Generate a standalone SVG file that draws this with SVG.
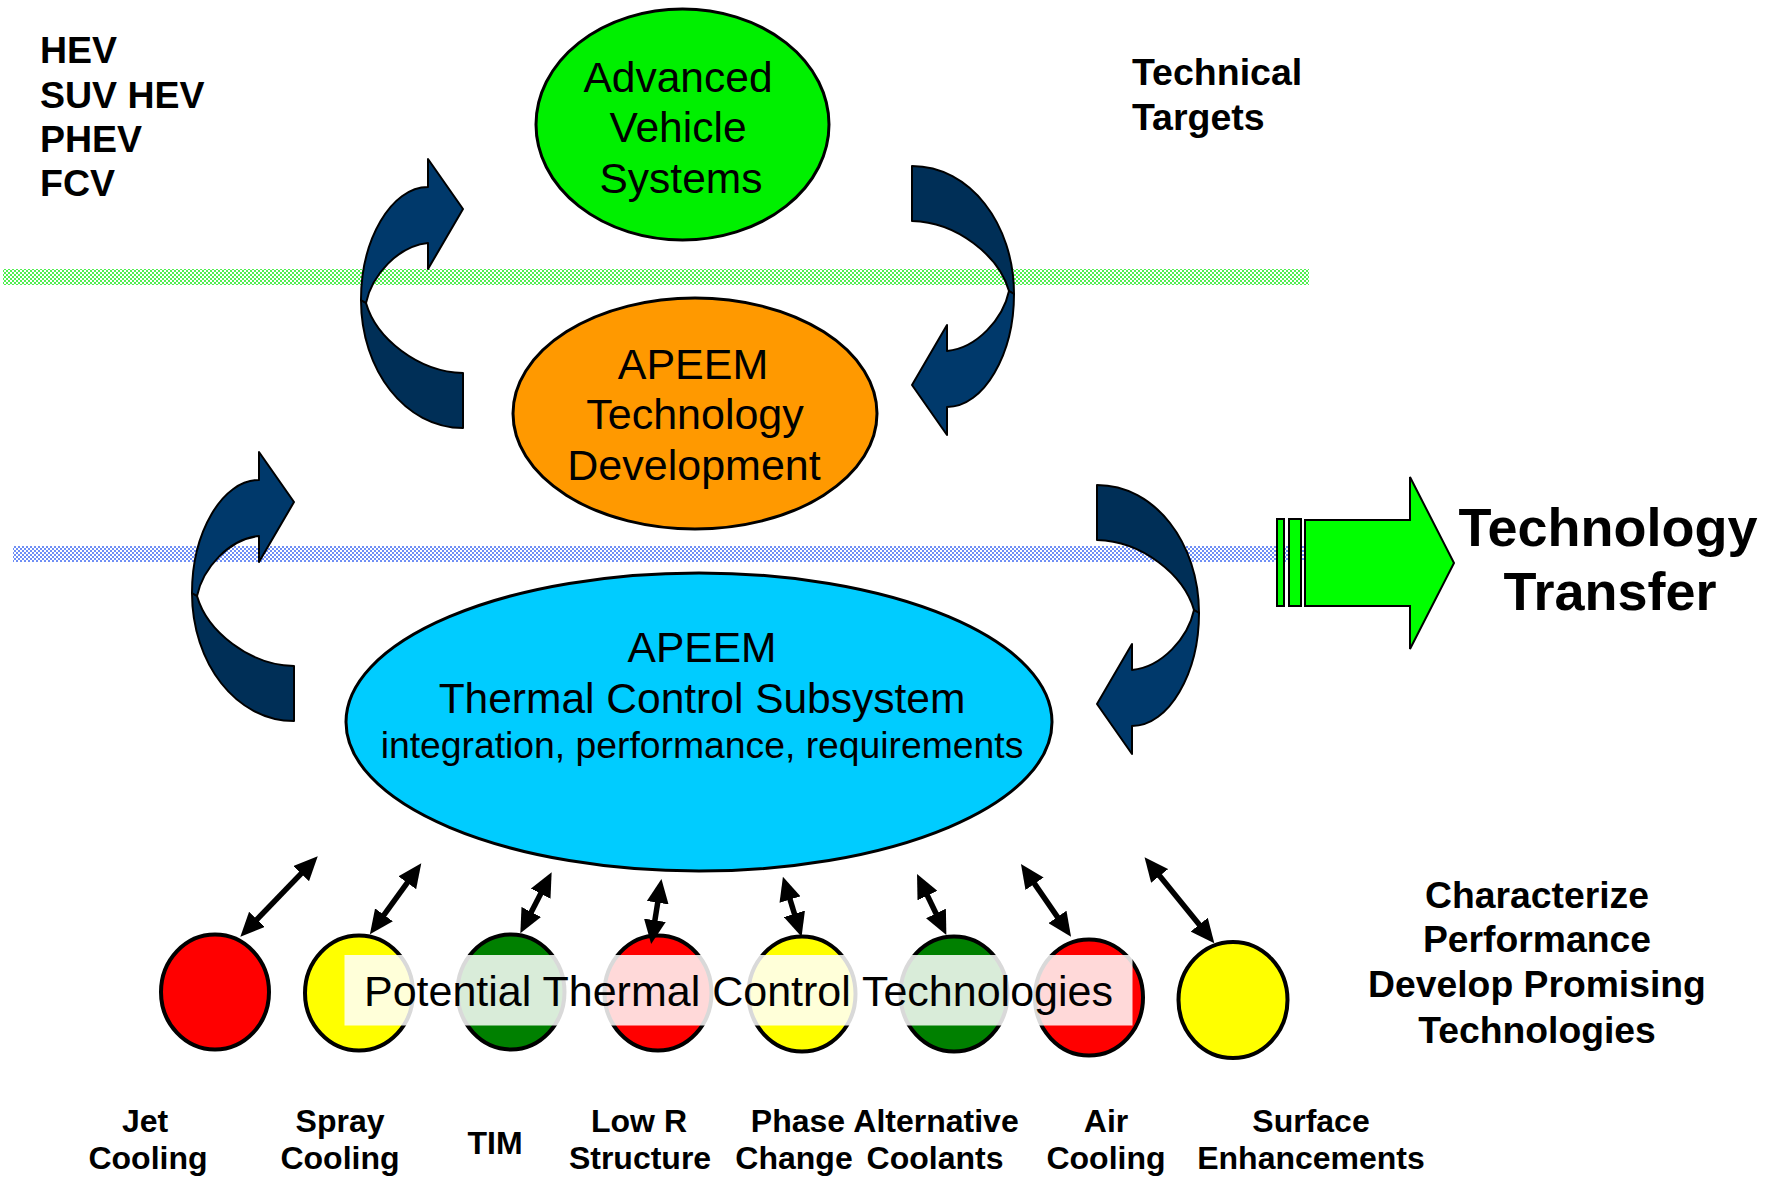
<svg xmlns="http://www.w3.org/2000/svg" xmlns:xlink="http://www.w3.org/1999/xlink" width="1772" height="1185" viewBox="0 0 1772 1185">
<style>
  text { font-family: "Liberation Sans", Arial, sans-serif; fill: #000; }
  .b { font-weight: bold; }
  .node { stroke: #000; stroke-width: 3; }
  .circ { stroke: #000; stroke-width: 4; }
  .head { fill: #00396B; stroke: #000; stroke-width: 2; stroke-linejoin: round; }
  .tail { fill: #002F57; stroke: #000; stroke-width: 2; stroke-linejoin: round; }
  .dbl { stroke: #000; stroke-width: 5.5; fill: none; marker-start: url(#ah); marker-end: url(#ah); }
  .mid { text-anchor: middle; }
</style>
<defs>
  <pattern id="pg" width="4" height="4" patternUnits="userSpaceOnUse">
    <rect width="4" height="4" fill="#FFFFFF"/>
    <rect width="2" height="2" fill="#50EE50"/>
    <rect x="2" y="2" width="2" height="2" fill="#50EE50"/>
  </pattern>
  <pattern id="pb" width="4" height="4" patternUnits="userSpaceOnUse">
    <rect width="4" height="4" fill="#FFFFFF"/>
    <rect width="2" height="2" fill="#6F8FF5"/>
    <rect x="2" y="2" width="2" height="2" fill="#6F8FF5"/>
  </pattern>
  <marker id="ah" viewBox="0 0 24 22" markerWidth="24" markerHeight="22" refX="16" refY="11" markerUnits="userSpaceOnUse" orient="auto-start-reverse">
    <path d="M0,0 L24,11 L0,22 Z" fill="#000"/>
  </marker>
  <g id="curved">
    <path class="tail" d="M361,300 C361,370 405,428 463,428 L463,373 C418,372 376,338 366,303 Z"/>
    <path class="head" d="M428,187 C391,187 361,240 361,300 L366,303 C372,275 398,246 428,243 L428,269 L463,209 L428,159 Z"/>
  </g>
</defs>

<g id="bands">
  <rect x="3" y="269" width="1306" height="16" fill="url(#pg)"/>
  <rect x="13" y="546" width="1297" height="16" fill="url(#pb)"/>
</g>

<g id="vehicle-list">
  <text class="b" x="40" y="63" font-size="37.5">HEV</text>
  <text class="b" x="40" y="108" font-size="37.5">SUV HEV</text>
  <text class="b" x="40" y="152" font-size="37.5">PHEV</text>
  <text class="b" x="40" y="196" font-size="37.5">FCV</text>
</g>

<g id="technical-targets">
  <text class="b" x="1132" y="85" font-size="37.5">Technical</text>
  <text class="b" x="1132" y="130" font-size="37.5">Targets</text>
</g>

<g id="node-avs">
  <ellipse class="node" cx="682.5" cy="124.5" rx="146.5" ry="115.5" fill="#00F000"/>
  <text class="mid" x="678" y="92" font-size="42.5">Advanced</text>
  <text class="mid" x="678" y="142" font-size="42.5">Vehicle</text>
  <text class="mid" x="681" y="193" font-size="42.5">Systems</text>
</g>

<g id="node-apeem-tech">
  <ellipse class="node" cx="695" cy="413.5" rx="182" ry="115.5" fill="#FF9900"/>
  <text class="mid" x="693" y="379" font-size="43">APEEM</text>
  <text class="mid" x="695" y="429" font-size="43">Technology</text>
  <text class="mid" x="694" y="480" font-size="43">Development</text>
</g>

<g id="node-thermal">
  <ellipse class="node" cx="699" cy="722" rx="353" ry="149" fill="#00CCFF"/>
  <text class="mid" x="702" y="662" font-size="42.5">APEEM</text>
  <text class="mid" x="702" y="713" font-size="42.5">Thermal Control Subsystem</text>
  <text class="mid" x="702" y="758" font-size="37.3">integration, performance, requirements</text>
</g>

<g id="node-tech-transfer">
  <rect x="1277" y="519" width="7" height="87" fill="#00FF00" stroke="#000" stroke-width="2"/>
  <rect x="1289" y="519" width="12" height="87" fill="#00FF00" stroke="#000" stroke-width="2"/>
  <path d="M1305,520 L1410,520 L1410,477 L1454,563 L1410,649 L1410,606 L1305,606 Z" fill="#00FF00" stroke="#000" stroke-width="2" stroke-linejoin="miter"/>
  <text class="b mid" x="1608" y="546" font-size="54">Technology</text>
  <text class="b mid" x="1610" y="610" font-size="54">Transfer</text>
</g>

<g id="characterize">
  <text class="b mid" x="1537" y="908" font-size="37.3">Characterize</text>
  <text class="b mid" x="1537" y="952" font-size="37.3">Performance</text>
  <text class="b mid" x="1537" y="997" font-size="37.3">Develop Promising</text>
  <text class="b mid" x="1537" y="1043" font-size="37.3">Technologies</text>
</g>

<g id="technologies">
  <g id="tech-jet"><ellipse class="circ" cx="215" cy="992" rx="54" ry="57.5" fill="#FF0000"/></g>
  <g id="tech-spray"><ellipse class="circ" cx="359" cy="993" rx="54" ry="57.5" fill="#FFFF00"/></g>
  <g id="tech-tim"><ellipse class="circ" cx="511" cy="992" rx="53.5" ry="57.5" fill="#008000"/></g>
  <g id="tech-lowr"><ellipse class="circ" cx="658" cy="993" rx="53.5" ry="57.5" fill="#FF0000"/></g>
  <g id="tech-phase"><ellipse class="circ" cx="802" cy="994" rx="53.5" ry="57.5" fill="#FFFF00"/></g>
  <g id="tech-coolants"><ellipse class="circ" cx="954" cy="994" rx="53.5" ry="57.5" fill="#008000"/></g>
  <g id="tech-air"><ellipse class="circ" cx="1089" cy="997.5" rx="54" ry="58" fill="#FF0000"/></g>
  <g id="tech-surface"><ellipse class="circ" cx="1233" cy="1000" rx="54.5" ry="58" fill="#FFFF00"/></g>
</g>

<g id="overlay-label">
  <rect x="344.5" y="955" width="788" height="70.5" fill="#FFFFFF" fill-opacity="0.85"/>
  <text x="364" y="1006" font-size="43">Potential Thermal Control Technologies</text>
</g>

<g id="connectors">
  <use xlink:href="#curved"/>
  <use xlink:href="#curved" transform="rotate(180 687.5 297)"/>
  <use xlink:href="#curved" transform="translate(-169 293)"/>
  <use xlink:href="#curved" transform="translate(185 319) rotate(180 687.5 297)"/>
  <line class="dbl" x1="312.2" y1="862.1" x2="245.9" y2="930.9"/>
  <line class="dbl" x1="416.6" y1="869.8" x2="374.6" y2="927.8"/>
  <line class="dbl" x1="548" y1="879.4" x2="524" y2="926.2"/>
  <line class="dbl" x1="660.2" y1="886.9" x2="652.4" y2="936.1"/>
  <line class="dbl" x1="785.3" y1="884.3" x2="799.2" y2="929.1"/>
  <line class="dbl" x1="920.5" y1="881.2" x2="942.9" y2="927.8"/>
  <line class="dbl" x1="1025.5" y1="870.6" x2="1066.5" y2="930.1"/>
  <line class="dbl" x1="1149.6" y1="863.5" x2="1209.3" y2="937.1"/>
</g>

<g id="tech-labels">
  <text class="b mid" x="145" y="1132" font-size="32">Jet</text>
  <text class="b mid" x="148" y="1169" font-size="32">Cooling</text>
  <text class="b mid" x="340" y="1132" font-size="32">Spray</text>
  <text class="b mid" x="340" y="1169" font-size="32">Cooling</text>
  <text class="b mid" x="495" y="1154" font-size="32">TIM</text>
  <text class="b mid" x="639" y="1132" font-size="32">Low R</text>
  <text class="b mid" x="640" y="1169" font-size="32">Structure</text>
  <text class="b mid" x="798" y="1132" font-size="32">Phase</text>
  <text class="b mid" x="794" y="1169" font-size="32">Change</text>
  <text class="b mid" x="936" y="1132" font-size="32">Alternative</text>
  <text class="b mid" x="935" y="1169" font-size="32">Coolants</text>
  <text class="b mid" x="1106" y="1132" font-size="32">Air</text>
  <text class="b mid" x="1106" y="1169" font-size="32">Cooling</text>
  <text class="b mid" x="1311" y="1132" font-size="32">Surface</text>
  <text class="b mid" x="1311" y="1169" font-size="32">Enhancements</text>
</g>
</svg>
